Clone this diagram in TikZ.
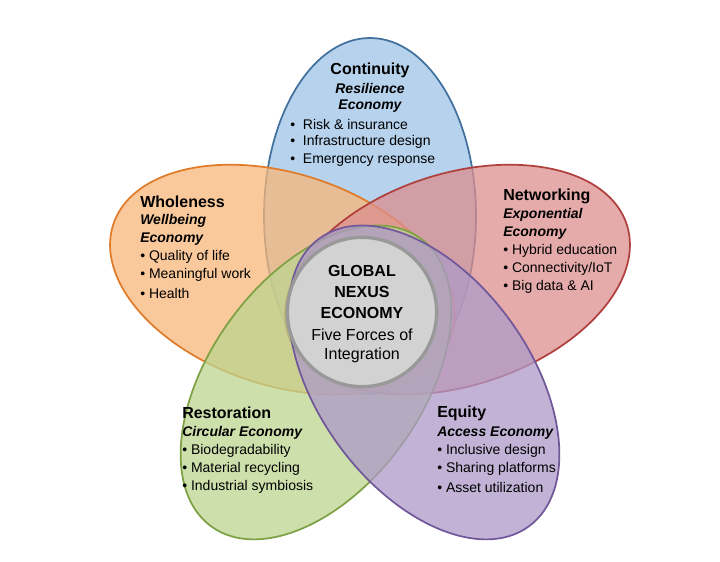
\documentclass[tikz,border=0pt]{standalone}
\usepackage{fontspec}
\setmainfont{Liberation Sans}
\definecolor{bfill}{HTML}{9DC3E6}\definecolor{bdraw}{HTML}{41719C}
\definecolor{ofill}{HTML}{F8B77A}\definecolor{odraw}{HTML}{E07B2A}
\definecolor{rfill}{HTML}{DC8E8E}\definecolor{rdraw}{HTML}{B0403D}
\definecolor{gfill}{HTML}{BCD58F}\definecolor{gdraw}{HTML}{7EA145}
\definecolor{pfill}{HTML}{AE9AC8}\definecolor{pdraw}{HTML}{71589A}
\tikzset{
 petal/.style={line width=1.3pt, fill opacity=0.75},
 ttl/.style={font=\fontsize{12}{14}\selectfont\bfseries, inner sep=0pt},
 sub/.style={font=\fontsize{10.5}{13.5}\selectfont\bfseries\itshape, inner sep=0pt},
 itm/.style={font=\fontsize{10.5}{13.5}\selectfont, inner sep=0pt, anchor=west},
}
\begin{document}
\begin{tikzpicture}[x=0.75pt,y=-0.75pt]
\useasboundingbox (0,0) rectangle (720,561);
\def\cx{370}\def\cy{308}
\foreach \ang/\f/\d in {90/bfill/bdraw,162/ofill/odraw,18/rfill/rdraw,-126/gfill/gdraw,-54/pfill/pdraw}{
  \begin{scope}[shift={(\cx,\cy)},rotate=\ang]
   \draw[petal,fill=\f,draw=\d] (92,0) ellipse [x radius=178, y radius=106];
  \end{scope}}
\node[circle, minimum size=112pt, fill=gray!35, draw=gray!80, line width=2.5pt] (core) at (362,312) {};
\node[ttl] (c1) at (362,271) {GLOBAL};
\node[ttl] (c2) at (362,292) {NEXUS};
\node[ttl] (c3) at (362,313) {ECONOMY};
\node[font=\fontsize{12}{14}\selectfont, inner sep=0pt] (c4) at (362,335) {Five Forces of};
\node[font=\fontsize{12}{14}\selectfont, inner sep=0pt] (c5) at (362,355) {Integration};
% blue
\node[ttl] (b0) at (370,70) {Continuity};
\node[sub] (b1) at (370,88) {Resilience};
\node[sub] (b2) at (370,106) {Economy};
\node[itm] (b3) at (290,124) {•\ \ Risk \& insurance};
\node[itm] (b4) at (290,142) {•\ \ Infrastructure design};
\node[itm] (b5) at (290,160) {•\ \ Emergency response};
% orange
\node[ttl,anchor=west] (o0) at (140,202) {Wholeness};
\node[sub,anchor=west] (o1) at (140,221) {Wellbeing};
\node[sub,anchor=west] (o2) at (140,239) {Economy};
\node[itm] (o3) at (140,257) {• Quality of life};
\node[itm] (o4) at (140,275) {• Meaningful work};
\node[itm] (o5) at (140,293) {• Health};
% red
\node[ttl,anchor=west] (r0) at (503,196) {Networking};
\node[sub,anchor=west] (r1) at (503,215) {Exponential};
\node[sub,anchor=west] (r2) at (503,233) {Economy};
\node[itm] (r3) at (503,251) {• Hybrid education};
\node[itm] (r4) at (503,269) {• Connectivity/IoT};
\node[itm] (r5) at (503,287) {• Big data \& AI};
% green
\node[ttl,anchor=west] (g0) at (182,413) {Restoration};
\node[sub,anchor=west] (g1) at (182,433) {Circular Economy};
\node[itm] (g3) at (182,451) {• Biodegradability};
\node[itm] (g4) at (182,469) {• Material recycling};
\node[itm] (g5) at (182,487) {• Industrial symbiosis};
% purple
\node[ttl,anchor=west] (p0) at (437,413) {Equity};
\node[sub,anchor=west] (p1) at (437,433) {Access Economy};
\node[itm] (p3) at (437,451) {• Inclusive design};
\node[itm] (p4) at (437,469) {• Sharing platforms};
\node[itm] (p5) at (437,487) {• Asset utilization};
\end{tikzpicture}
\end{document}
